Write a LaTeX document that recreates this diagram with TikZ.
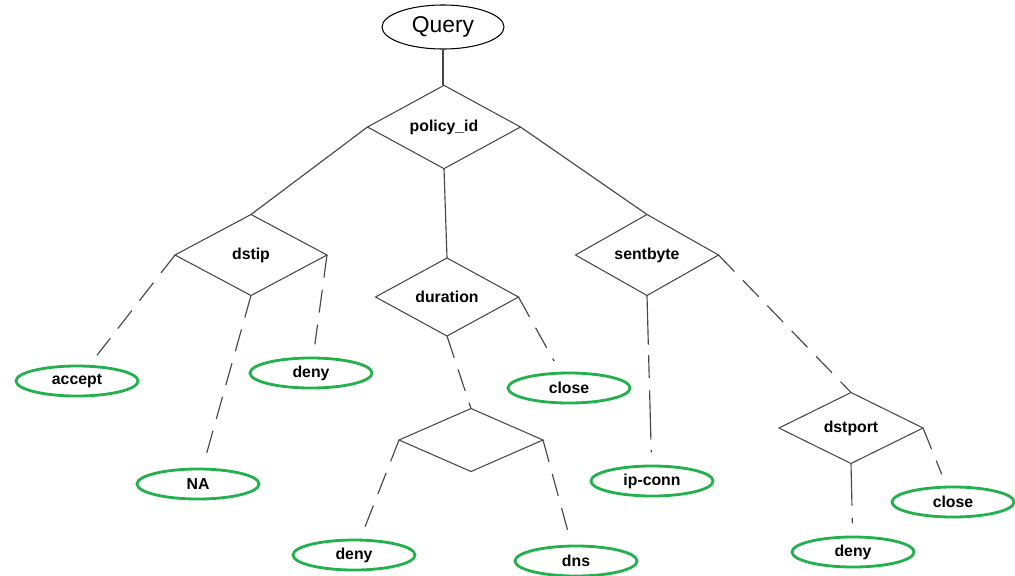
\documentclass[tikz,border=0pt]{standalone}
\usepackage{fontspec}
\setmainfont{Liberation Sans}
\usepackage{tikz}
\usetikzlibrary{shapes.geometric}
\usepackage{xcolor}
\definecolor{leafgreen}{RGB}{34,177,76}
\definecolor{edgegray}{RGB}{70,70,70}

\begin{document}
\begin{tikzpicture}[x=0.2mm,y=-0.2mm,
  attr/.style={draw=edgegray,line width=0.6pt,diamond,inner sep=0pt,outer sep=0pt,font=\fontsize{9}{10}\selectfont\bfseries},
  leaf/.style={draw=leafgreen,line width=1.6pt,ellipse,inner sep=0pt,minimum width=24.4mm,minimum height=6mm,font=\fontsize{9}{10}\selectfont\bfseries},
  branch/.style={draw=edgegray,line width=0.65pt},
  guess/.style={branch,dash pattern=on 13pt off 7pt,shorten >=7pt}]
\useasboundingbox (0,0) rectangle (1015,575);
\node[draw,ellipse,line width=0.6pt,inner sep=0pt,minimum width=24.4mm,minimum height=8.8mm,font=\fontsize{13}{15}\selectfont] (query) at (443,27) {Query};
\node[attr,minimum width=30.6mm,minimum height=15.8mm] (policy) at (444,127) {policy\_id};
\node[attr,minimum width=30.4mm,minimum height=16.2mm] (dstip) at (251,255) {dstip};
\node[attr,minimum width=28.6mm,minimum height=15.6mm] (duration) at (447,297) {duration};
\node[attr,minimum width=28.6mm,minimum height=16.2mm] (sentbyte) at (647,255) {sentbyte};
\node[attr,minimum width=28.8mm,minimum height=12.6mm] (split) at (471,440) {};
\node[attr,minimum width=28.8mm,minimum height=14.2mm] (dstport) at (851,428) {dstport};
\node[leaf] (accept) at (77,381) {accept};
\node[leaf] (na) at (198,484) {NA};
\node[leaf] (denyA) at (311,373) {deny};
\node[leaf] (closeA) at (569,388) {close};
\node[leaf] (ipconn) at (652,481) {ip-conn};
\node[leaf] (denyB) at (354,555) {deny};
\node[leaf] (dns) at (576,561) {dns};
\node[leaf] (closeB) at (953,502) {close};
\node[leaf] (denyC) at (853,552) {deny};
\draw[branch] (query.south) -- (query.south |- policy.north);
\draw[branch] (policy.west) -- (dstip.north);
\draw[branch] (policy.south) -- (duration.north);
\draw[branch] (policy.east) -- (sentbyte.north);
% dashed arms down to the leaves
\draw[guess] (dstip.west) -- (accept);
\draw[guess] (dstip.south) -- (na);
\draw[guess] (dstip.east) -- (denyA);
\draw[guess] (duration.east) -- (closeA);
\draw[guess,shorten >=0pt] (duration.south) -- (split.north);
\draw[guess] (split.west) -- (denyB);
\draw[guess] (split.east) -- (dns);
\draw[guess,dash pattern=on 28pt off 6pt on 13pt off 7pt] (sentbyte.south) -- (ipconn);
\draw[guess,shorten >=0pt] (sentbyte.east) -- (dstport.north);
\draw[guess] (dstport.east) -- (closeB);
\draw[guess,dash pattern=on 24pt off 7pt on 13pt off 7pt] (dstport.south) -- (denyC);
\end{tikzpicture}
\end{document}
